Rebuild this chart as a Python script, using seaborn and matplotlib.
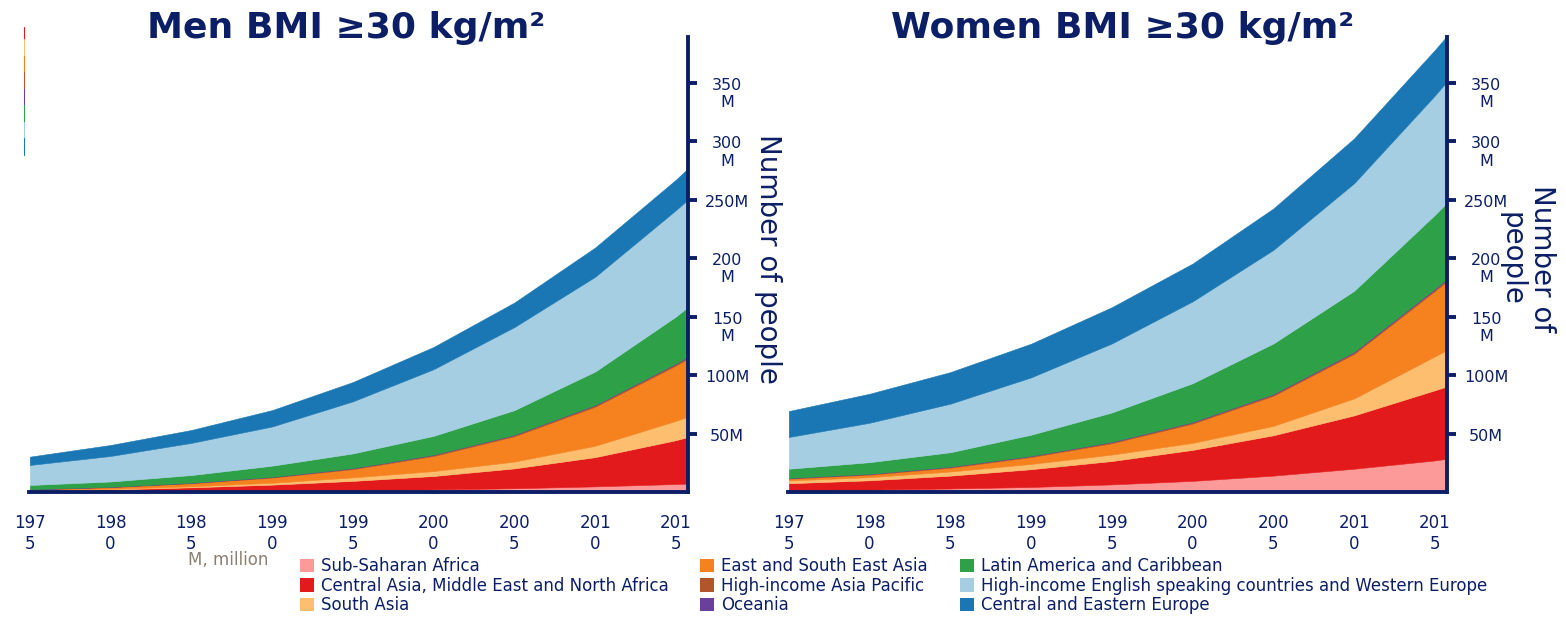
import matplotlib
matplotlib.use('Agg')
import pandas as pd
import matplotlib.pyplot as plt
import seaborn as sns
from matplotlib.patches import Patch
from matplotlib.lines import Line2D
from matplotlib.transforms import ScaledTranslation

# --- dados (milhões de pessoas com IMC >= 30) ---
anos = [1975, 1980, 1985, 1990, 1995, 2000, 2005, 2010, 2015, 2016]

regioes = [
    'Sub-Saharan Africa',
    'Central Asia, Middle East and North Africa',
    'South Asia',
    'East and South East Asia',
    'High-income Asia Pacific',
    'Oceania',
    'Latin America and Caribbean',
    'High-income English speaking countries and Western Europe',
    'Central and Eastern Europe',
]

# homens
homens_ssa = [0.3, 0.5, 0.7, 1.0, 1.5, 2.2, 3.2, 4.8, 6.8, 7.3]
homens_camena = [0.9, 1.7, 3.3, 5.3, 8.0, 11.5, 17.0, 25.0, 37.5, 40.7]
homens_sa = [0.3, 0.5, 0.9, 1.6, 3.0, 4.2, 5.8, 9.7, 16.5, 17.5]
homens_esea = [0.6, 1.4, 2.55, 4.4, 7.05, 12.9, 21.65, 33.4, 47.3, 50.5]
homens_hiap = [0.2, 0.3, 0.4, 0.5, 0.7, 0.9, 1.0, 1.2, 1.4, 1.5]
homens_oce = [0.1, 0.1, 0.15, 0.2, 0.25, 0.3, 0.35, 0.4, 0.5, 0.5]
homens_latam = [3.6, 4.5, 6.5, 9.5, 12.5, 16.0, 21.0, 28.5, 40.0, 43.0]
homens_hiwe = [17.1, 21.8, 27.5, 33.5, 44.5, 57.0, 71.0, 81.0, 91.0, 92.0]
homens_cee = [7.1, 9.4, 11.0, 14.0, 16.5, 19.0, 21.0, 25.0, 26.0, 27.0]

# mulheres
mulheres_ssa = [1.2, 2.0, 3.0, 4.3, 6.5, 9.5, 14.0, 19.9, 27.0, 29.0]
mulheres_camena = [6.3, 8.0, 11.0, 15.2, 20.0, 26.5, 34.5, 45.6, 60.0, 62.5]
mulheres_sa = [2.3, 2.7, 3.5, 4.5, 5.5, 6.0, 8.0, 14.5, 29.0, 31.5]
mulheres_esea = [1.6, 2.1, 3.3, 5.9, 9.7, 16.5, 25.8, 38.1, 55.9, 59.9]
mulheres_hiap = [0.5, 0.6, 0.7, 0.8, 0.9, 1.0, 1.1, 1.2, 1.3, 1.3]
mulheres_oce = [0.2, 0.2, 0.3, 0.3, 0.4, 0.5, 0.6, 0.7, 0.8, 0.8]
mulheres_latam = [7.8, 9.9, 12.2, 18.0, 25.0, 33.0, 43.0, 52.0, 63.0, 66.0]
mulheres_hiwe = [27.1, 33.7, 41.5, 49.0, 59.0, 70.0, 80.0, 92.0, 102.0, 104.0]
mulheres_cee = [22.2, 24.8, 27.0, 28.8, 31.0, 32.3, 35.4, 38.3, 38.9, 39.0]

ticks_y = [50, 100, 150, 200, 250, 300, 350]
rotulos_y = ['50M', '100M', '150\nM', '200\nM', '250M', '300\nM', '350\nM']
ticks_x = [1975, 1980, 1985, 1990, 1995, 2000, 2005, 2010, 2015]
rotulos_x = ['197\n5', '198\n0', '198\n5', '199\n0', '199\n5', '200\n0', '200\n5', '201\n0', '201\n5']

df_homens = pd.DataFrame(dict(zip(regioes, [
    homens_ssa, homens_camena, homens_sa, homens_esea, homens_hiap,
    homens_oce, homens_latam, homens_hiwe, homens_cee])), index=anos)
df_mulheres = pd.DataFrame(dict(zip(regioes, [
    mulheres_ssa, mulheres_camena, mulheres_sa, mulheres_esea, mulheres_hiap,
    mulheres_oce, mulheres_latam, mulheres_hiwe, mulheres_cee])), index=anos)

sns.set_style('white')
plt.rcParams['font.family'] = ['DejaVu Sans']

azul_escuro = '#0c1f66'
paired = sns.color_palette('Paired', 12)
cores = [paired[4], paired[5], paired[6], '#f5811f', '#b0562a',
         '#6b3f9c', '#2ea148', paired[0], '#1a77b3']

W, H = 1566, 619
fig = plt.figure(figsize=(W / 100, H / 100), dpi=100)
ax_h = fig.add_axes([29 / W, 1 - 492 / H, (688 - 29) / W, (492 - 37) / H])
ax_m = fig.add_axes([788 / W, 1 - 492 / H, (1447 - 788) / W, (492 - 37) / H])


def desenhar(ax, df):
    ax.stackplot(df.index, *[df[r] for r in regioes], colors=cores,
                 linewidth=0.4, edgecolor='face')
    ax.set_xlim(1974.95, 2015.75)
    ax.set_ylim(0, 389)
    sns.despine(ax=ax, left=True, top=True, right=False, bottom=False)
    for lado in ['right', 'bottom']:
        ax.spines[lado].set_color(azul_escuro)
        ax.spines[lado].set_linewidth(2.8)
    ax.yaxis.tick_right()
    ax.set_yticks(ticks_y)
    ax.set_yticklabels(rotulos_y, ha='center', va='top', multialignment='center')
    ax.tick_params(axis='y', direction='out', length=6.5, width=2.8, color=azul_escuro,
                   labelcolor=azul_escuro, labelsize=11.5, pad=21.6)
    ax.set_xticks(ticks_x)
    ax.set_xticklabels(rotulos_x, multialignment='center')
    ax.tick_params(axis='x', direction='out', length=8, width=2.8, color=azul_escuro,
                   labelcolor=azul_escuro, labelsize=12, pad=8)
    desloc = ScaledTranslation(0, 5 / 100, fig.dpi_scale_trans)
    for lbl in ax.get_yticklabels():
        lbl.set_transform(lbl.get_transform() + desloc)
    ax.grid(False)


desenhar(ax_h, df_homens)
desenhar(ax_m, df_mulheres)

# títulos
fig.text(346 / W, 1 - 38 / H, 'Men BMI ≥30 kg/m²', ha='center', va='baseline',
         fontsize=26, fontweight='bold', color=azul_escuro)
fig.text(1123 / W, 1 - 38 / H, 'Women BMI ≥30 kg/m²', ha='center', va='baseline',
         fontsize=26, fontweight='bold', color=azul_escuro)

# rótulos do eixo y
fig.text(768 / W, 1 - 259 / H, 'Number of people', rotation=-90, ha='center', va='center',
         fontsize=20, color=azul_escuro)
fig.text(1527 / W, 1 - 259 / H, 'Number of\npeople', rotation=-90, ha='center', va='center',
         multialignment='center', fontsize=20, color=azul_escuro, linespacing=1.1)

fig.text(188 / W, 1 - 560 / H, 'M, million', ha='left', va='center', fontsize=12, color='#8c8072')

# legenda em três colunas
alcas = [Patch(facecolor=c, edgecolor='none') for c in cores]
for i, x0 in enumerate([300, 700, 960]):
    fig.legend(handles=alcas[3 * i:3 * i + 3], labels=regioes[3 * i:3 * i + 3],
               loc='upper left', bbox_to_anchor=(x0 / W, 1 - 557 / H), frameon=False,
               fontsize=12, handlelength=0.85, handleheight=0.85, handletextpad=0.4,
               labelspacing=0.1, borderpad=0, borderaxespad=0, labelcolor=azul_escuro)

# pequena linha colorida no canto superior esquerdo
segmentos = [(27, 39, cores[1]), (39, 56, cores[2]), (56, 72, cores[3]),
             (72, 89, cores[4]), (89, 105, cores[5]), (105, 122, cores[6]),
             (122, 138, cores[7]), (138, 155, cores[8])]
for y0, y1, c in segmentos:
    fig.add_artist(Line2D([24 / W, 24 / W], [1 - y0 / H, 1 - y1 / H],
                          transform=fig.transFigure, color=c, lw=0.8))

fig.savefig('out.png', dpi=100)
